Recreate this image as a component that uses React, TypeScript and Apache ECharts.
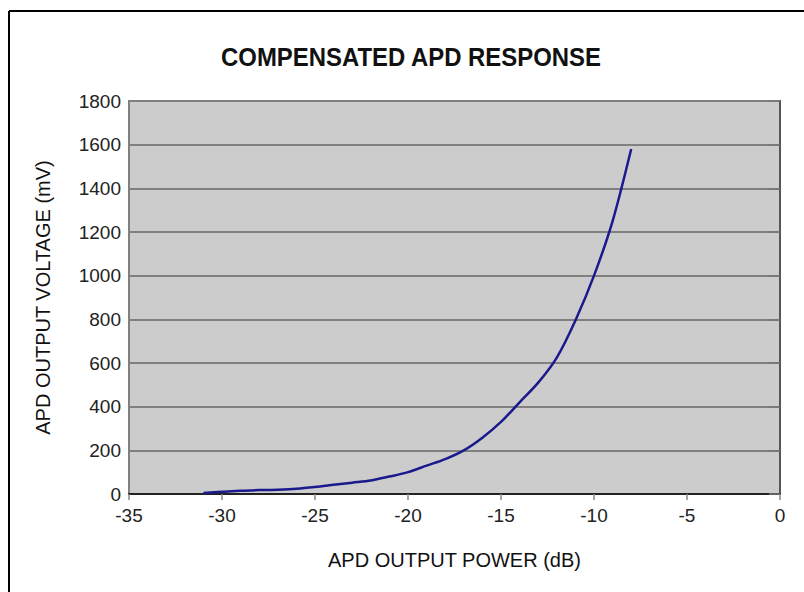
import React, { useEffect, useRef } from "react";
import * as echarts from "echarts";

const powerDb = [-31, -30, -29, -28, -27, -26, -25, -24, -23, -22, -21, -20, -19, -18, -17, -16, -15, -14, -13, -12, -11, -10, -9, -8];
const voltageMv = [5, 10, 15, 18, 20, 24, 32, 42, 52, 62, 80, 100, 130, 160, 200, 258, 330, 420, 510, 625, 795, 1000, 1250, 1580];

const titleText = "COMPENSATED APD RESPONSE";
const xName = "APD OUTPUT POWER (dB)";
const yName = "APD OUTPUT VOLTAGE (mV)";

export default function App() {
  const ref = useRef<HTMLDivElement>(null);
  useEffect(() => {
    if (!ref.current) return;
    const chart = echarts.init(ref.current, null, { renderer: "svg" });
    const font = "'Liberation Sans', Arial, Helvetica, sans-serif";
    chart.setOption({
      animation: false,
      backgroundColor: "#ffffff",
      graphic: [
        { type: "line", shape: { x1: 9, y1: 11, x2: 810, y2: 11 }, style: { stroke: "#000", lineWidth: 2 } },
        { type: "line", shape: { x1: 9, y1: 11, x2: 9, y2: 600 }, style: { stroke: "#000", lineWidth: 2 } },
        {
          type: "text",
          x: 411,
          y: 57,
          scaleX: 0.92,
          style: {
            text: titleText,
            fontFamily: font,
            fontSize: 26,
            fontWeight: "bold",
            fill: "#111",
            textAlign: "center",
            textVerticalAlign: "middle",
          },
        },
      ],
      grid: { left: 129, top: 101, right: 24, bottom: 98, show: true, backgroundColor: "#cccccc", borderColor: "#808080", borderWidth: 2 },
      xAxis: {
        type: "value",
        min: -35,
        max: 0,
        interval: 5,
        name: xName,
        nameLocation: "middle",
        nameGap: 56,
        nameTextStyle: { fontFamily: font, fontSize: 20, color: "#111" },
        axisLine: { show: true, onZero: false, lineStyle: { color: "#222", width: 2 } },
        axisTick: { show: true, length: 6, lineStyle: { color: "#888", width: 1.5 } },
        axisLabel: { fontFamily: font, fontSize: 19, color: "#222", margin: 12 },
        splitLine: { show: false },
      },
      yAxis: {
        type: "value",
        min: 0,
        max: 1800,
        interval: 200,
        name: yName,
        nameLocation: "middle",
        nameGap: 76,
        nameTextStyle: { fontFamily: font, fontSize: 20, color: "#111" },
        axisLine: { show: true, lineStyle: { color: "#555", width: 2 } },
        axisTick: { show: true, length: 11, lineStyle: { color: "#777", width: 1.5 } },
        axisLabel: { fontFamily: font, fontSize: 19, color: "#222", margin: 8, formatter: (v: number) => String(v) },
        splitLine: { show: true, lineStyle: { color: "#808080", width: 2 } },
      },
      series: [
        {
          type: "line",
          data: powerDb.map((x, i) => [x, voltageMv[i]]),
          showSymbol: false,
          smooth: 0.3,
          lineStyle: { color: "#1a1a8e", width: 2.5 },
        },
      ],
    });
    return () => chart.dispose();
  }, []);
  return <div ref={ref} style={{ position: "fixed", left: 0, top: 0, width: 804, height: 592 }} />;
}
